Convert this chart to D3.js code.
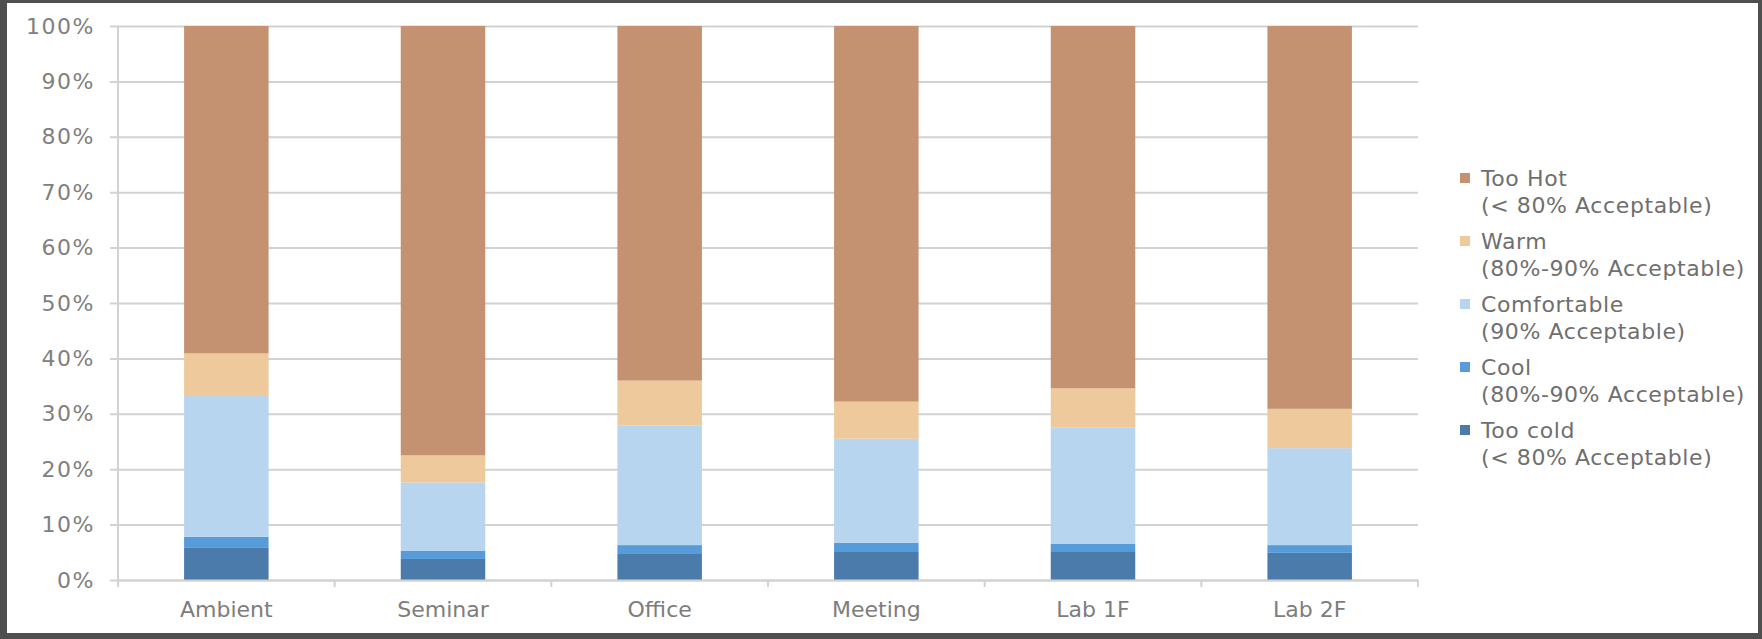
<!DOCTYPE html>
<html>
<head>
<meta charset="utf-8">
<script src="https://cdn.jsdelivr.net/npm/d3@7"></script>
<style>
  html, body { margin: 0; padding: 0; background: #4f4f4f; }
  svg { display: block; }
</style>
</head>
<body>
<div id="viz"></div>
<script>
var categories = ['Ambient', 'Seminar', 'Office', 'Meeting', 'Lab 1F', 'Lab 2F'];
var seriesNames = ['Too cold', 'Cool', 'Comfortable', 'Warm', 'Too Hot'];
var seriesNotes = ['(< 80% Acceptable)', '(80%-90% Acceptable)', '(90% Acceptable)', '(80%-90% Acceptable)', '(< 80% Acceptable)'];
var colors = ['#4b7baa', '#579bd9', '#b8d5ef', '#edc99b', '#c49171'];

// percent of votes, per category, bottom to top
var tooCold     = [5.9, 3.8, 4.7, 5.2, 5.2, 4.9];
var cool        = [1.9, 1.5, 1.6, 1.5, 1.3, 1.4];
var comfortable = [25.4, 12.3, 21.6, 18.8, 21.0, 17.5];
var warm        = [7.7, 4.9, 8.1, 6.7, 7.1, 7.1];
var tooHot      = [59.1, 77.5, 64.0, 67.8, 65.4, 69.1];

var yTicks = [0, 10, 20, 30, 40, 50, 60, 70, 80, 90, 100];

var W = 1762, H = 639;
var margin = {top: 26, right: 344, bottom: 59, left: 118},
    width = W - margin.left - margin.right,
    height = H - margin.top - margin.bottom;

var rows = categories.map(function(c, i) {
  return {cat: c, 'Too cold': tooCold[i], 'Cool': cool[i], 'Comfortable': comfortable[i], 'Warm': warm[i], 'Too Hot': tooHot[i]};
});
var stacked = d3.stack().keys(seriesNames)(rows);

var svgRoot = d3.select('#viz').append('svg')
  .attr('width', W)
  .attr('height', H);

// white panel inside the dark frame
svgRoot.append('rect')
  .attr('x', 7).attr('y', 3)
  .attr('width', 1751).attr('height', 630)
  .attr('fill', '#ffffff');

var svg = svgRoot.append('g')
  .attr('transform', 'translate(' + margin.left + ',' + margin.top + ')');

var x = d3.scaleBand().domain(categories).range([0, width]).padding(0);
var y = d3.scaleLinear().domain([0, 100]).range([height, 0]);
var barW = x.bandwidth() * 0.39;

// gridlines + y axis
var yAxis = svg.append('g')
  .call(d3.axisLeft(y).tickValues(yTicks).tickSize(-width).tickFormat(function(d) { return d + '%'; }).tickPadding(23));
yAxis.select('.domain').remove();
yAxis.selectAll('.tick line')
  .attr('x1', -8)
  .attr('stroke', '#d2d2d2')
  .attr('stroke-width', 2);
yAxis.selectAll('.tick text')
  .attr('fill', '#808080')
  .style('font-family', 'DejaVu Sans')
  .style('font-size', '22px')
  .style('letter-spacing', '1.5px');

svg.append('line')
  .attr('x1', 0).attr('x2', 0)
  .attr('y1', 0).attr('y2', height)
  .attr('stroke', '#d2d2d2')
  .attr('stroke-width', 2);

// bars
svg.selectAll('g.series')
  .data(stacked)
  .enter().append('g')
  .attr('class', 'series')
  .attr('fill', function(d, i) { return colors[i]; })
  .selectAll('rect')
  .data(function(d) { return d; })
  .enter().append('rect')
  .attr('x', function(d) { return x(d.data.cat) + (x.bandwidth() - barW) / 2; })
  .attr('y', function(d) { return y(d[1]); })
  .attr('width', barW)
  .attr('height', function(d) { return y(d[0]) - y(d[1]); });

// x axis
var xAxis = svg.append('g')
  .attr('transform', 'translate(0,' + height + ')')
  .call(d3.axisBottom(x).tickSize(0).tickPadding(21));
xAxis.select('.domain').attr('stroke', '#d2d2d2').attr('stroke-width', 2);
xAxis.selectAll('.tick text')
  .attr('fill', '#7d7d7d')
  .style('font-family', 'DejaVu Sans')
  .style('font-size', '22px');

xAxis.selectAll('line.sep')
  .data(d3.range(categories.length + 1))
  .enter().append('line')
  .attr('class', 'sep')
  .attr('x1', function(i) { return i * x.step(); })
  .attr('x2', function(i) { return i * x.step(); })
  .attr('y1', 0).attr('y2', 7)
  .attr('stroke', '#d2d2d2')
  .attr('stroke-width', 2);

// legend, top item first
var legend = svgRoot.append('g').attr('transform', 'translate(1460,178)');
var order = d3.range(seriesNames.length).reverse();
var item = legend.selectAll('g')
  .data(order)
  .enter().append('g')
  .attr('transform', function(d, i) { return 'translate(0,' + (i * 63) + ')'; });

item.append('rect')
  .attr('x', 0).attr('y', -5)
  .attr('width', 10).attr('height', 10)
  .attr('fill', function(d) { return colors[d]; });

item.append('text')
  .attr('x', 21).attr('y', 0)
  .attr('dy', '0.35em')
  .attr('fill', '#6f6f6f')
  .style('font-family', 'DejaVu Sans')
  .style('font-size', '22px')
  .style('letter-spacing', '0.6px')
  .text(function(d) { return seriesNames[d]; });

item.append('text')
  .attr('x', 21).attr('y', 27)
  .attr('dy', '0.35em')
  .attr('fill', '#6f6f6f')
  .style('font-family', 'DejaVu Sans')
  .style('font-size', '22px')
  .style('letter-spacing', '0.6px')
  .text(function(d) { return seriesNotes[d]; });
</script>
</body>
</html>
